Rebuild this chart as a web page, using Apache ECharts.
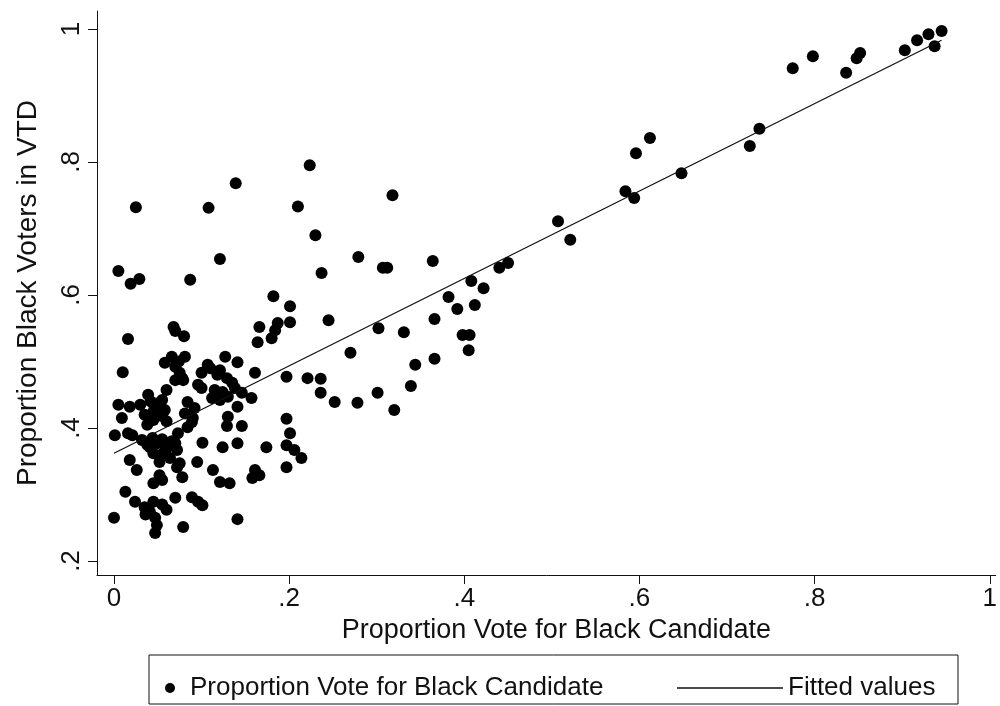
<!DOCTYPE html>
<html>
<head>
<meta charset="utf-8">
<script src="https://cdn.jsdelivr.net/npm/echarts@6/dist/echarts.min.js"></script>
<style>
  html, body { margin: 0; padding: 0; background: #fff; }
  #chart { width: 1000px; height: 706px; }
</style>
</head>
<body>
<div id="chart"></div>
<script>
// Proportion of the vote won by the Black candidate, per voting tabulation district
const voteShare = [
  0.945, 0.930, 0.917, 0.937, 0.903, 0.852, 0.848, 0.836, 0.798, 0.775,
  0.737, 0.726, 0.648, 0.612, 0.596, 0.584, 0.594, 0.507, 0.521,
  0.2235, 0.318, 0.210, 0.230, 0.279, 0.307, 0.312, 0.364, 0.237, 0.440,
  0.450, 0.408, 0.422, 0.382, 0.392, 0.412, 0.366, 0.245, 0.302, 0.331,
  0.398, 0.406, 0.405, 0.270, 0.366, 0.344, 0.221, 0.236, 0.236, 0.339,
  0.252, 0.278, 0.301, 0.320,
  0.139, 0.025, 0.108, 0.121, 0.005, 0.019, 0.029, 0.087, 0.182, 0.201,
  0.201, 0.187, 0.166, 0.068,
  0.016, 0.080, 0.010, 0.066, 0.081, 0.058, 0.070, 0.070, 0.078, 0.100,
  0.096, 0.060, 0.055, 0.039, 0.084, 0.092, 0.005, 0.018, 0.009, 0.030,
  0.035, 0.045, 0.050, 0.055, 0.058, 0.089, 0.001, 0.016, 0.073,
  0.021, 0.032, 0.041, 0.049, 0.045, 0.056, 0.064, 0.072, 0.052, 0.070,
  0.095, 0.018, 0.026, 0.072, 0.078, 0.052, 0.055, 0.045, 0.101, 0.013,
  0.024, 0.035, 0.045, 0.041, 0.047, 0.049, 0.047, 0.060, 0.000, 0.070,
  0.089, 0.096, 0.079,
  0.164, 0.184, 0.180, 0.127, 0.141, 0.107, 0.121, 0.129, 0.135, 0.138,
  0.161, 0.115, 0.124, 0.130, 0.121, 0.146, 0.157, 0.141, 0.197, 0.130,
  0.129, 0.146, 0.197, 0.201,
  0.124, 0.141, 0.174, 0.197, 0.206, 0.214, 0.113, 0.121, 0.132, 0.161,
  0.166, 0.158, 0.197, 0.101, 0.141,
  0.042, 0.048, 0.038, 0.052, 0.045, 0.060, 0.038, 0.060, 0.066, 0.044,
  0.055, 0.110, 0.118, 0.100, 0.112, 0.081, 0.090, 0.084, 0.070, 0.074,
  0.079, 0.075, 0.075, 0.036, 0.055
];

// Proportion of Black voters in the same districts
const blackShare = [
  0.997, 0.992, 0.983, 0.974, 0.968, 0.964, 0.956, 0.934, 0.959, 0.941,
  0.850, 0.824, 0.783, 0.836, 0.813, 0.756, 0.746, 0.711, 0.683,
  0.795, 0.750, 0.733, 0.690, 0.657, 0.641, 0.641, 0.651, 0.633, 0.641,
  0.648, 0.621, 0.610, 0.597, 0.579, 0.585, 0.564, 0.562, 0.550, 0.544,
  0.540, 0.540, 0.517, 0.513, 0.504, 0.495, 0.475, 0.474, 0.453, 0.463,
  0.439, 0.438, 0.453, 0.427,
  0.768, 0.732, 0.731, 0.654, 0.636, 0.617, 0.624, 0.623, 0.598, 0.583,
  0.559, 0.558, 0.552, 0.552,
  0.534, 0.538, 0.484, 0.507, 0.507, 0.498, 0.492, 0.472, 0.475, 0.483,
  0.465, 0.457, 0.442, 0.450, 0.439, 0.430, 0.435, 0.432, 0.415, 0.435,
  0.420, 0.412, 0.425, 0.418, 0.427, 0.409, 0.389, 0.392, 0.392,
  0.389, 0.382, 0.371, 0.377, 0.362, 0.362, 0.355, 0.367, 0.349, 0.377,
  0.349, 0.352, 0.337, 0.341, 0.326, 0.329, 0.322, 0.317, 0.378, 0.304,
  0.289, 0.281, 0.289, 0.274, 0.265, 0.254, 0.242, 0.277, 0.265, 0.295,
  0.296, 0.289, 0.251,
  0.529, 0.547, 0.535, 0.507, 0.499, 0.495, 0.487, 0.475, 0.468, 0.460,
  0.483, 0.457, 0.454, 0.447, 0.442, 0.453, 0.445, 0.432, 0.477, 0.417,
  0.403, 0.403, 0.414, 0.392,
  0.371, 0.377, 0.371, 0.374, 0.367, 0.355, 0.337, 0.319, 0.317, 0.337,
  0.329, 0.325, 0.341, 0.284, 0.263,
  0.440, 0.432, 0.405, 0.438, 0.425, 0.410, 0.375, 0.370, 0.380, 0.385,
  0.383, 0.490, 0.480, 0.460, 0.445, 0.422, 0.415, 0.401, 0.546, 0.500,
  0.472, 0.483, 0.347, 0.270, 0.285
];

// End points of the fitted regression line
const fitX = [0, 0.945];
const fitY = [0.362, 0.983];

const xTickValues = [0, 0.2, 0.4, 0.6, 0.8, 1];
const xTickLabels = ['0', '.2', '.4', '.6', '.8', '1'];
const yTickValues = [0.2, 0.4, 0.6, 0.8, 1];
const yTickLabels = ['.2', '.4', '.6', '.8', '1'];

const scatterName = 'Proportion Vote for Black Candidate';
const lineName = 'Fitted values';

const FONT = '"Liberation Sans", Arial, Helvetica, sans-serif';
const INK = '#111';

const points = voteShare.map((v, i) => [v, blackShare[i]]);
const fitLine = fitX.map((v, i) => [v, fitY[i]]);

const labelFor = (values, labels) => v => {
  const i = values.findIndex(t => Math.abs(t - v) < 1e-9);
  return i >= 0 ? labels[i] : '';
};

const chart = echarts.init(document.getElementById('chart'), null, { renderer: 'canvas' });

chart.setOption({
  backgroundColor: '#fff',
  animation: false,
  textStyle: { fontFamily: FONT, color: INK },
  grid: { left: 97, right: 3, top: 11, bottom: 131 },
  xAxis: {
    type: 'value',
    min: -0.0194,
    max: 1.0068,
    name: 'Proportion Vote for Black Candidate',
    nameLocation: 'middle',
    nameGap: 40,
    nameTextStyle: { fontSize: 27, color: INK, fontFamily: FONT, padding: [0, 0, 0, 20] },
    splitLine: { show: false },
    axisLine: { show: true, onZero: false, lineStyle: { color: INK, width: 1 } },
    axisTick: { show: true, inside: false, length: 9, customValues: xTickValues, lineStyle: { color: INK } },
    axisLabel: {
      customValues: xTickValues,
      formatter: labelFor(xTickValues, xTickLabels),
      fontSize: 26, color: INK, fontFamily: FONT, margin: 11
    }
  },
  yAxis: {
    type: 'value',
    min: 0.179,
    max: 1.027,
    name: 'Proportion Black Voters in VTD',
    nameLocation: 'middle',
    nameRotate: 90,
    nameGap: 55,
    nameTextStyle: { fontSize: 28, color: INK, fontFamily: FONT },
    splitLine: { show: false },
    axisLine: { show: true, onZero: false, lineStyle: { color: INK, width: 1 } },
    axisTick: { show: true, inside: false, length: 9, customValues: yTickValues, lineStyle: { color: INK } },
    axisLabel: {
      customValues: yTickValues,
      formatter: labelFor(yTickValues, yTickLabels),
      rotate: 90,
      fontSize: 26, color: INK, fontFamily: FONT, margin: 12
    }
  },
  legend: [
    {
      data: [{ name: scatterName, icon: 'circle' }],
      left: 160, top: 670,
      itemWidth: 30, itemHeight: 10,
      textStyle: { fontSize: 26, color: INK, fontFamily: FONT }
    },
    {
      data: [{ name: lineName, icon: 'rect' }],
      left: 672, top: 670,
      itemWidth: 106, itemHeight: 1.3,
      textStyle: { fontSize: 26, color: INK, fontFamily: FONT }
    }
  ],
  graphic: [
    {
      type: 'rect',
      shape: { x: 149, y: 655, width: 809, height: 49 },
      style: { fill: 'none', stroke: INK, lineWidth: 1 },
      silent: true
    }
  ],
  series: [
    {
      name: scatterName,
      type: 'scatter',
      data: points,
      symbol: 'circle',
      symbolSize: 12,
      itemStyle: { color: '#000', opacity: 1 },
      z: 2
    },
    {
      name: lineName,
      type: 'line',
      data: fitLine,
      showSymbol: false,
      symbol: 'none',
      lineStyle: { color: INK, width: 1.3 },
      itemStyle: { color: INK },
      z: 3
    }
  ]
});
</script>
</body>
</html>
